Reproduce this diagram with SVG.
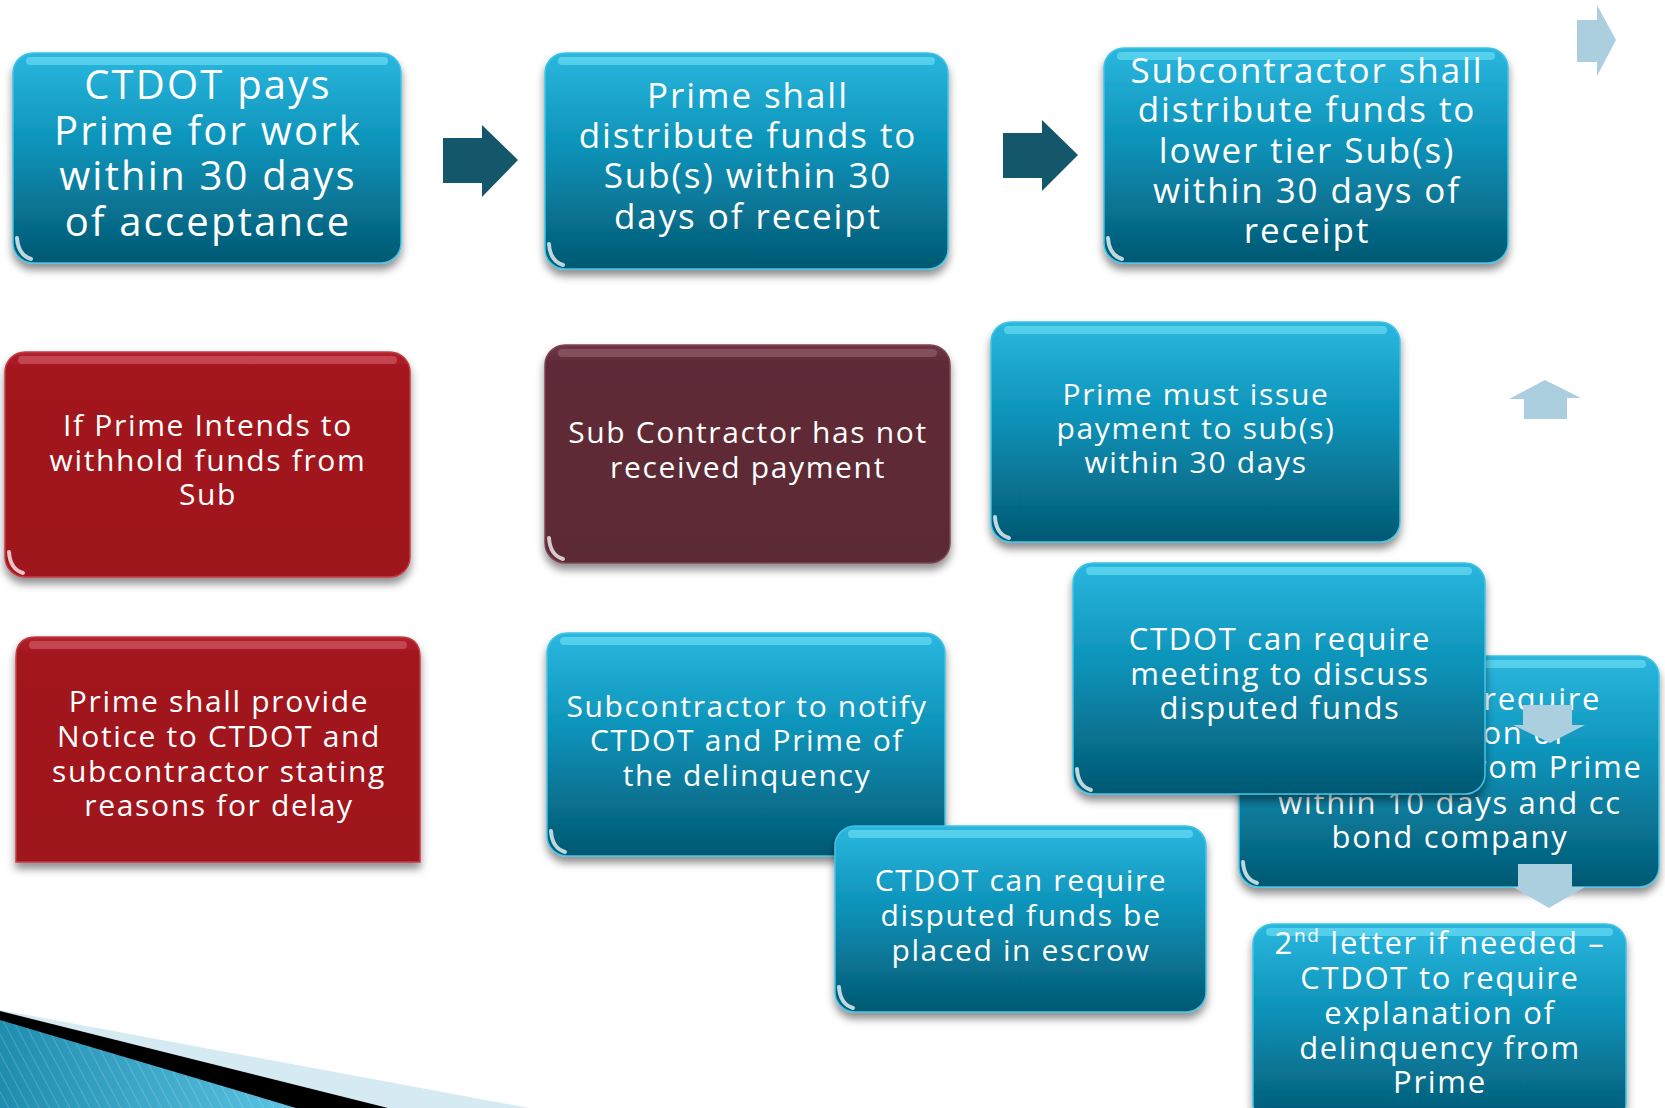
<svg xmlns="http://www.w3.org/2000/svg" width="1665" height="1108" viewBox="0 0 1665 1108">
<defs>
  <linearGradient id="gTeal" x1="0" y1="0" x2="0" y2="1">
    <stop offset="0" stop-color="#2bb7df"/>
    <stop offset="0.45" stop-color="#0b91b7"/>
    <stop offset="1" stop-color="#045872"/>
  </linearGradient>
  <linearGradient id="gRed" x1="0" y1="0" x2="0" y2="1">
    <stop offset="0" stop-color="#b3222c"/>
    <stop offset="0.08" stop-color="#a2161f"/>
    <stop offset="1" stop-color="#9f151e"/>
  </linearGradient>
  <linearGradient id="gMaroon" x1="0" y1="0" x2="0" y2="1">
    <stop offset="0" stop-color="#6e3744"/>
    <stop offset="0.08" stop-color="#5f2b37"/>
    <stop offset="1" stop-color="#5c2934"/>
  </linearGradient>
  <linearGradient id="gSwoosh" x1="0" y1="0" x2="1" y2="0">
    <stop offset="0" stop-color="#1f8db0"/>
    <stop offset="1" stop-color="#5cc3e3"/>
  </linearGradient>
  <pattern id="hatch" width="9" height="9" patternUnits="userSpaceOnUse" patternTransform="rotate(-28)">
    <line x1="0" y1="0" x2="0" y2="9" stroke="#ffffff" stroke-opacity="0.18" stroke-width="2"/>
  </pattern>
  <radialGradient id="gSpot" cx="0.5" cy="0.5" r="0.5">
    <stop offset="0" stop-color="#ffffff" stop-opacity="0.95"/>
    <stop offset="1" stop-color="#ffffff" stop-opacity="0"/>
  </radialGradient>
  <filter id="sh" x="-10%" y="-10%" width="120%" height="130%">
    <feDropShadow dx="0" dy="6" stdDeviation="4" flood-color="#000" flood-opacity="0.45"/>
  </filter>
  <style>
    .teal{fill:url(#gTeal);stroke:#3fc3e6;stroke-width:1.5}
    .red{fill:url(#gRed);stroke:#c43a44;stroke-width:1.5}
    .maroon{fill:url(#gMaroon);stroke:#7c4552;stroke-width:1.5}
    .hlT{fill:#8ef1ff;opacity:0.45}
    .hlR{fill:#e37882;opacity:0.45}
    .hlM{fill:#a9717e;opacity:0.45}
    .spot{fill:none;stroke:#ffffff;stroke-width:4;stroke-linecap:round;opacity:0.75}
    text{font-family:"Open Sans","Noto Sans","DejaVu Sans",sans-serif;fill:#ffffff;text-anchor:middle;letter-spacing:0.055em}
    .f40{font-size:40px}
    .f35{font-size:35px}
    .f30{font-size:30px}
    .f31{font-size:31px}
    .dark{fill:#15576a}
    .light{fill:#abcfdf}
  </style>
</defs>

<rect width="1665" height="1108" fill="#ffffff"/>

<!-- decorative swoosh bottom-left -->
<g id="swoosh">
  <polygon points="0,1010 529,1108 0,1108" fill="#d5eaf2"/>
  <polygon points="0,1011 388,1108 0,1108" fill="#000000"/>
  <polygon points="0,1020 296,1108 0,1108" fill="url(#gSwoosh)"/>
  <polygon points="0,1020 296,1108 0,1108" fill="url(#hatch)"/>
</g>

<!-- Row 1 -->
<g id="n1">
  <rect class="teal" x="13" y="53" width="388" height="210" rx="20" filter="url(#sh)"/>
  <rect class="hlT" x="26" y="57" width="362" height="8" rx="4"/>
  <path class="spot" d="M17,238 Q18,255 31,259"/>
  <text class="f40"><tspan x="208" y="99">CTDOT pays</tspan><tspan x="208" y="145">Prime for work</tspan><tspan x="208" y="190">within 30 days</tspan><tspan x="208" y="236">of acceptance</tspan></text>
</g>
<g id="n2">
  <rect class="teal" x="545" y="53" width="403" height="216" rx="20" filter="url(#sh)"/>
  <rect class="hlT" x="558" y="57" width="377" height="8" rx="4"/>
  <path class="spot" d="M549,244 Q550,261 563,265"/>
  <text class="f35"><tspan x="748" y="108">Prime shall</tspan><tspan x="748" y="148">distribute funds to</tspan><tspan x="748" y="188">Sub(s) within 30</tspan><tspan x="748" y="229">days of receipt</tspan></text>
</g>
<g id="n3">
  <rect class="teal" x="1104" y="48" width="404" height="215" rx="20" filter="url(#sh)"/>
  <rect class="hlT" x="1117" y="52" width="378" height="8" rx="4"/>
  <path class="spot" d="M1108,238 Q1109,255 1122,259"/>
  <text class="f35"><tspan x="1307" y="83">Subcontractor shall</tspan><tspan x="1307" y="122">distribute funds to</tspan><tspan x="1307" y="163">lower tier Sub(s)</tspan><tspan x="1307" y="203">within 30 days of</tspan><tspan x="1307" y="243">receipt</tspan></text>
</g>

<!-- Row 2 -->
<g id="n4">
  <rect class="red" x="5" y="352" width="405" height="225" rx="20" filter="url(#sh)"/>
  <rect class="hlR" x="18" y="356" width="379" height="8" rx="4"/>
  <path class="spot" d="M9,552 Q10,569 23,573"/>
  <text class="f30"><tspan x="208" y="436">If Prime Intends to</tspan><tspan x="208" y="471">withhold funds from</tspan><tspan x="208" y="505">Sub</tspan></text>
</g>
<g id="n5">
  <rect class="maroon" x="545" y="345" width="405" height="218" rx="20" filter="url(#sh)"/>
  <rect class="hlM" x="558" y="349" width="379" height="8" rx="4"/>
  <path class="spot" d="M549,538 Q550,555 563,559"/>
  <text class="f30"><tspan x="748" y="443">Sub Contractor has not</tspan><tspan x="748" y="478">received payment</tspan></text>
</g>
<g id="n6">
  <rect class="teal" x="991" y="322" width="409" height="220" rx="20" filter="url(#sh)"/>
  <rect class="hlT" x="1004" y="326" width="383" height="8" rx="4"/>
  <path class="spot" d="M995,517 Q996,534 1009,538"/>
  <text class="f30"><tspan x="1196" y="405">Prime must issue</tspan><tspan x="1196" y="439">payment to sub(s)</tspan><tspan x="1196" y="473">within 30 days</tspan></text>
</g>

<!-- Row 3 -->
<g id="n7">
  <path class="red" d="M16,862 L16,657 Q16,637 36,637 L400,637 Q420,637 420,657 L420,862 Z" filter="url(#sh)"/>
  <rect class="hlR" x="29" y="641" width="378" height="8" rx="4"/>
  <text class="f30"><tspan x="219" y="712">Prime shall provide</tspan><tspan x="219" y="747">Notice to CTDOT and</tspan><tspan x="219" y="782">subcontractor stating</tspan><tspan x="219" y="816">reasons for delay</tspan></text>
</g>
<g id="n8">
  <rect class="teal" x="547" y="633" width="398" height="223" rx="20" filter="url(#sh)"/>
  <rect class="hlT" x="560" y="637" width="372" height="8" rx="4"/>
  <path class="spot" d="M551,831 Q552,848 565,852"/>
  <text class="f30"><tspan x="747" y="717">Subcontractor to notify</tspan><tspan x="747" y="751">CTDOT and Prime of</tspan><tspan x="747" y="786">the delinquency</tspan></text>
</g>
<g id="n9">
  <rect class="teal" x="835" y="826" width="371" height="186" rx="20" filter="url(#sh)"/>
  <rect class="hlT" x="848" y="830" width="345" height="8" rx="4"/>
  <path class="spot" d="M839,987 Q840,1004 853,1008"/>
  <text class="f30"><tspan x="1021" y="891">CTDOT can require</tspan><tspan x="1021" y="926">disputed funds be</tspan><tspan x="1021" y="961">placed in escrow</tspan></text>
</g>
<g id="n10">
  <rect class="teal" x="1239" y="656" width="420" height="231" rx="20" filter="url(#sh)"/>
  <rect class="hlT" x="1252" y="660" width="394" height="8" rx="4"/>
  <path class="spot" d="M1243,862 Q1244,879 1257,883"/>
  <text class="f31"><tspan x="1450" y="710">CTDOT can require</tspan><tspan x="1450" y="744">explanation of</tspan><tspan x="1450" y="778">delinquency from Prime</tspan><tspan x="1450" y="814">within 10 days and cc</tspan><tspan x="1450" y="848">bond company</tspan></text>
</g>
<g id="n11">
  <rect class="teal" x="1073" y="563" width="412" height="231" rx="20" filter="url(#sh)"/>
  <rect class="hlT" x="1086" y="567" width="386" height="8" rx="4"/>
  <path class="spot" d="M1077,769 Q1078,786 1091,790"/>
  <text class="f31"><tspan x="1280" y="650">CTDOT can require</tspan><tspan x="1280" y="685">meeting to discuss</tspan><tspan x="1280" y="719">disputed funds</tspan></text>
</g>
<g id="n12">
  <rect class="teal" x="1253" y="924" width="373" height="200" rx="20" filter="url(#sh)"/>
  <rect class="hlT" x="1266" y="928" width="347" height="8" rx="4"/>
  <text class="f31"><tspan x="1440" y="954">2<tspan font-size="19" dy="-12">nd</tspan><tspan dy="12"> letter if needed –</tspan></tspan><tspan x="1440" y="989">CTDOT to require</tspan><tspan x="1440" y="1024">explanation of</tspan><tspan x="1440" y="1059">delinquency from</tspan><tspan x="1440" y="1093">Prime</tspan></text>
</g>

<!-- connectors: block arrows -->
<g id="connectors">
  <polygon class="dark" points="443,138 482,138 482,125 518,160 482,197 482,183 443,183"/>
  <polygon class="dark" points="1003,133 1042,133 1042,120 1078,155 1042,191 1042,178 1003,178"/>
  <polygon class="light" points="1577,20 1597,20 1597,5 1616,40 1597,76 1597,62 1577,62"/>
  <polygon class="light" points="1524,419 1524,399 1509,399 1545,380 1581,398 1567,398 1567,419"/>
  <polygon class="light" points="1523,705 1572,705 1572,725 1585,725 1550,743 1513,725 1523,725"/>
  <polygon class="light" points="1518,864 1572,864 1572,887 1585,887 1549,908 1513,887 1518,887"/>
</g>
</svg>
